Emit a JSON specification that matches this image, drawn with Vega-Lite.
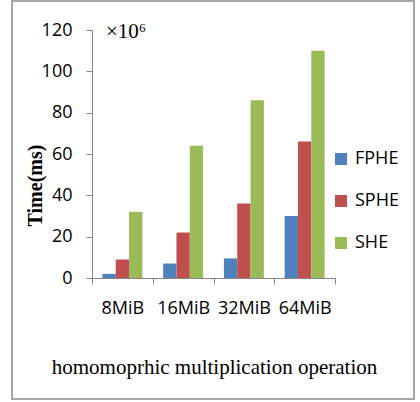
{
  "$schema": "https://vega.github.io/schema/vega-lite/v6.json",
  "autosize": "none",
  "width": 243,
  "height": 248,
  "padding": {"left": 92, "top": 30, "right": 85, "bottom": 124},
  "background": "white",
  "title": {
    "text": "×10⁶",
    "anchor": "start",
    "frame": "group",
    "offset": 0,
    "dx": 14,
    "dy": 59,
    "baseline": "alphabetic",
    "font": "Liberation Serif",
    "fontSize": 21,
    "fontWeight": "normal",
    "color": "#000000"
  },
  "config": {
    "view": {"stroke": null},
    "axis": {
      "domainColor": "#868686",
      "tickColor": "#868686",
      "grid": false,
      "labelFont": "Open Sans",
      "labelFontSize": 18,
      "labelColor": "#000000"
    }
  },
  "layer": [
    {
      "data": {"values": [{}]},
      "mark": {"type": "rect", "fill": null, "stroke": "#A6A6A6", "strokeWidth": 2},
      "encoding": {
        "x": {"value": -80},
        "x2": {"value": 322},
        "y": {"value": -29},
        "y2": {"value": 369}
      }
    },
    {
      "data": {
        "values": [
          {"size": "8MiB", "scheme": "FPHE", "time": 2},
          {"size": "8MiB", "scheme": "SPHE", "time": 9},
          {"size": "8MiB", "scheme": "SHE", "time": 32},
          {"size": "16MiB", "scheme": "FPHE", "time": 7},
          {"size": "16MiB", "scheme": "SPHE", "time": 22},
          {"size": "16MiB", "scheme": "SHE", "time": 64},
          {"size": "32MiB", "scheme": "FPHE", "time": 9.5},
          {"size": "32MiB", "scheme": "SPHE", "time": 36},
          {"size": "32MiB", "scheme": "SHE", "time": 86},
          {"size": "64MiB", "scheme": "FPHE", "time": 30},
          {"size": "64MiB", "scheme": "SPHE", "time": 66},
          {"size": "64MiB", "scheme": "SHE", "time": 110}
        ]
      },
      "mark": {"type": "bar"},
      "encoding": {
        "x": {
          "field": "size",
          "type": "nominal",
          "sort": ["8MiB", "16MiB", "32MiB", "64MiB"],
          "scale": {"paddingInner": 0, "paddingOuter": 0},
          "axis": {
            "title": "homomoprhic multiplication operation",
            "titleFont": "Liberation Serif",
            "titleFontSize": 21,
            "titleFontWeight": "normal",
            "titleColor": "#000000",
            "titleX": 122,
            "titleY": 95,
            "titleBaseline": "alphabetic",
            "labelAngle": 0,
            "labelPadding": 15,
            "tickBand": "extent",
            "tickSize": 6
          }
        },
        "xOffset": {
          "field": "scheme",
          "type": "nominal",
          "sort": ["FPHE", "SPHE", "SHE"],
          "scale": {"paddingInner": 0, "paddingOuter": 0.78}
        },
        "y": {
          "field": "time",
          "type": "quantitative",
          "scale": {"domain": [0, 120], "nice": false},
          "axis": {
            "values": [0, 20, 40, 60, 80, 100, 120],
            "title": "Time(ms)",
            "titleFont": "Liberation Serif",
            "titleFontSize": 20,
            "titleFontWeight": "bold",
            "titleColor": "#000000",
            "titleX": -57,
            "titleY": 155,
            "titleBaseline": "middle",
            "labelPadding": 14,
            "tickSize": 6
          }
        },
        "color": {
          "field": "scheme",
          "type": "nominal",
          "sort": ["FPHE", "SPHE", "SHE"],
          "scale": {"range": ["#4F81BD", "#C0504D", "#9BBB59"]},
          "legend": {
            "title": null,
            "orient": "none",
            "legendX": 240,
            "legendY": 120,
            "padding": 0,
            "symbolType": "square",
            "symbolSize": 144,
            "symbolStrokeWidth": 0,
            "labelFont": "Open Sans",
            "labelFontSize": 18,
            "labelColor": "#000000",
            "labelOffset": 5,
            "rowPadding": 24
          }
        }
      }
    }
  ]
}
